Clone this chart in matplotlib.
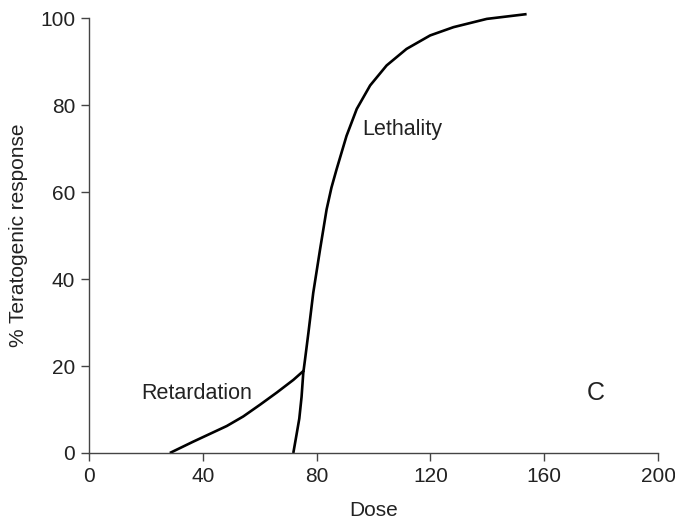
import matplotlib
matplotlib.use("Agg")
import matplotlib.pyplot as plt

plt.rcParams['font.family'] = ['Liberation Sans', 'DejaVu Sans']

# Retardation curve (dose, % response)
ret_dose = [28.4, 32.5, 36.6, 42.5, 48.4, 54.2, 60.1, 66.0, 71.8, 75.6]
ret_resp = [0.0, 1.3, 2.6, 4.4, 6.2, 8.4, 11.1, 13.9, 16.8, 19.0]

# Lethality curve (dose, % response)
let_dose = [71.8, 72.9, 73.9, 74.7, 75.3, 75.9, 77.1, 78.8, 81.2, 83.5, 85.2,
            87.0, 90.5, 94.1, 98.8, 104.6, 111.6, 119.9, 128.1, 139.8, 153.8]
let_resp = [0.0, 4.1, 7.9, 12.9, 18.4, 21.4, 27.6, 36.8, 46.8, 56.0, 61.0,
            65.2, 72.9, 79.1, 84.5, 89.1, 92.9, 96.0, 97.9, 99.8, 100.9]

x_ticks = [0, 40, 80, 120, 160, 200]
y_ticks = [0, 20, 40, 60, 80, 100]

fig = plt.figure(figsize=(6.75, 5.24), dpi=100)
ax = fig.add_axes([0.1319, 0.1355, 0.8430, 0.8301])

line_kw = dict(color='black', lw=1.9, solid_capstyle='butt',
               solid_joinstyle='round', clip_on=False)
ax.plot(ret_dose, ret_resp, **line_kw)
ax.plot(let_dose, let_resp, **line_kw)

ax.set_xlim(0, 200)
ax.set_ylim(0, 100)
ax.set_xticks(x_ticks)
ax.set_yticks(y_ticks)

for s in ['top', 'right']:
    ax.spines[s].set_visible(False)
for s in ['left', 'bottom']:
    ax.spines[s].set_color('#444444')
    ax.spines[s].set_linewidth(1.0)

ax.tick_params(axis='both', direction='out', length=6, width=1.0,
               color='#444444', labelsize=15, labelcolor='#222222', pad=4)

ax.set_xlabel('Dose', fontsize=15, color='#222222', labelpad=11)
ax.set_ylabel('% Teratogenic response', fontsize=15, color='#222222', labelpad=9)

ax.text(38, 13.6, 'Retardation', fontsize=15.5, color='#222222', ha='center', va='center')
ax.text(110, 74.3, 'Lethality', fontsize=15.5, color='#222222', ha='center', va='center')
ax.text(178, 13.8, 'C', fontsize=18, color='#222222', ha='center', va='center')

fig.savefig('out.png', dpi=100, facecolor='white')
